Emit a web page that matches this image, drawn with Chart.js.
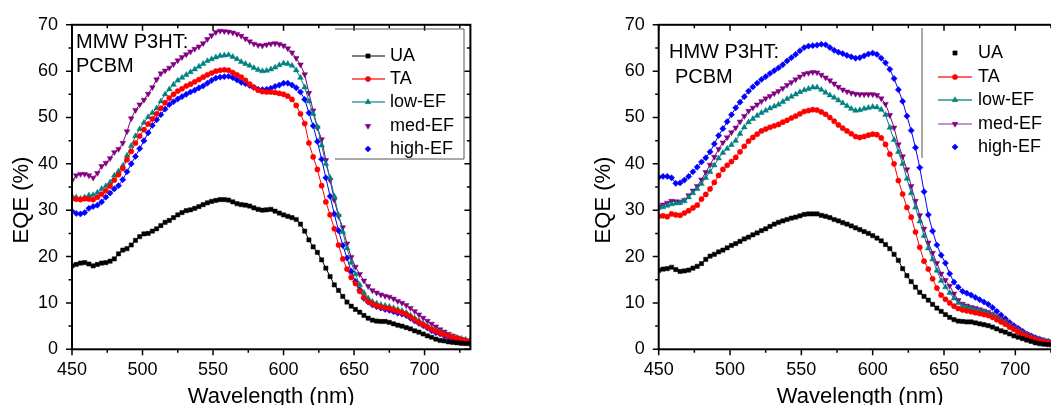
<!DOCTYPE html>
<html lang="en">
<head>
<meta charset="UTF-8">
<title>EQE spectra - MMW / HMW P3HT:PCBM</title>
<script src="https://cdn.jsdelivr.net/npm/chart.js"></script>
<style>
    html, body {
        margin: 0;
        padding: 0;
        background: #fff;
        overflow: hidden;
    }
    body {
        width: 1051px;
        height: 405px;
        position: relative;
    }
    .panel {
        position: absolute;
        top: 0;
        height: 405px;
    }
    #left { left: 0; width: 530px; }
    #right { left: 530px; width: 545px; }
</style>
</head>
<body>
<div class="panel" id="left"><canvas id="mmwChart" width="530" height="405"></canvas></div>
<div class="panel" id="right"><canvas id="hmwChart" width="545" height="405"></canvas></div>

<script>
// wavelength (nm)
const wavelength = [
    450,453,456,459,462,465,468,471,474,477,
    480,483,486,489,492,495,498,501,504,507,
    510,513,516,519,522,525,528,531,534,537,
    540,543,546,549,552,555,558,561,564,567,
    570,573,576,579,582,585,588,591,594,597,
    600,603,606,609,612,615,618,621,624,627,
    630,633,636,639,642,645,648,651,654,657,
    660,663,666,669,672,675,678,681,684,687,
    690,693,696,699,702,705,708,711,714,717,
    720,723,726,729,732
];

// MMW P3HT:PCBM, EQE (%)
const mmwUA = [
    18.0,18.3,18.6,18.7,18.4,18.0,18.3,18.6,18.7,19.0,
    19.5,20.6,21.4,21.7,22.5,23.5,24.3,24.9,25.0,25.5,
    26.0,26.7,27.4,27.8,28.4,29.0,29.5,29.9,30.1,30.4,
    30.8,31.2,31.6,31.9,32.1,32.3,32.3,32.2,31.8,31.4,
    31.2,31.1,30.9,30.5,30.2,30.0,30.1,30.2,29.8,29.4,
    29.0,28.7,28.4,28.0,27.0,25.5,23.6,22.1,20.9,19.3,
    17.5,15.7,13.9,12.7,11.4,10.2,9.3,8.6,8.0,7.3,
    6.7,6.3,6.1,6.0,6.0,5.8,5.5,5.2,5.0,4.7,
    4.4,4.0,3.7,3.3,2.9,2.6,2.2,1.9,1.8,1.6,
    1.5,1.4,1.3,1.25,1.2
];
const mmwTA = [
    32.5,32.4,32.3,32.5,32.4,32.3,32.8,33.5,34.2,35.2,
    36.5,37.7,39.0,40.9,42.7,44.5,46.0,47.4,48.6,49.7,
    50.8,52.0,53.2,54.2,55.0,55.7,56.2,56.8,57.2,57.7,
    58.2,58.7,59.2,59.6,60.0,60.2,60.3,60.2,59.7,59.2,
    58.7,58.0,57.2,56.5,55.9,55.6,55.5,55.5,55.4,55.2,
    55.0,54.6,53.9,52.6,50.8,48.7,44.5,41.5,38.8,35.3,
    31.8,29.0,26.0,22.5,19.5,17.3,15.5,14.2,12.5,11.2,
    10.3,9.8,9.4,9.1,8.9,8.8,8.5,8.2,7.9,7.6,
    7.0,6.4,5.8,5.3,4.8,4.3,3.9,3.5,3.2,2.9,
    2.6,2.4,2.1,1.9,1.7
];
const mmwLow = [
    33.0,32.8,32.5,32.8,33.2,33.3,33.8,34.6,35.2,36.0,
    37.5,38.4,39.6,41.8,43.9,46.0,47.5,48.9,50.1,51.0,
    52.0,53.5,55.0,56.1,57.1,58.0,58.6,59.2,59.8,60.4,
    61.0,61.6,62.2,62.6,63.0,63.3,63.4,63.5,63.1,62.6,
    62.0,61.6,61.2,60.7,60.3,60.0,60.1,60.4,60.8,61.3,
    61.7,61.6,61.2,60.2,58.6,56.5,53.5,50.8,48.0,44.0,
    40.0,37.0,33.0,29.0,25.3,21.8,18.7,16.2,13.9,12.2,
    11.0,10.3,9.9,9.6,9.4,9.2,8.9,8.6,8.3,7.9,
    7.3,6.7,6.2,5.6,5.0,4.5,4.1,3.7,3.4,3.0,
    2.8,2.5,2.3,2.1,1.9
];
const mmwMed = [
    36.4,37.5,37.8,37.8,37.5,37.0,38.0,39.5,40.2,41.2,
    42.5,43.2,44.5,47.0,49.8,51.6,52.8,53.8,55.1,56.5,
    58.2,59.5,60.1,60.7,61.5,62.3,63.0,63.6,64.2,64.8,
    65.3,66.0,66.9,67.7,68.4,68.7,68.6,68.5,68.3,68.0,
    67.6,67.0,66.4,65.9,65.6,65.5,65.7,65.9,66.0,65.8,
    65.5,64.9,64.0,62.8,61.4,59.3,55.3,51.5,47.8,45.3,
    40.8,36.5,32.2,28.7,26.3,22.8,19.9,17.8,16.2,14.8,
    13.6,12.7,12.2,11.8,11.5,11.3,10.9,10.4,10.0,9.5,
    8.9,8.2,7.5,6.8,6.1,5.5,4.9,4.3,3.8,3.3,
    2.9,2.5,2.2,1.9,1.6
];
const mmwHigh = [
    29.8,29.3,29.2,29.5,30.4,30.8,31.1,31.8,32.8,33.7,
    34.6,35.3,36.6,38.3,40.0,41.6,43.3,45.0,46.7,48.3,
    49.5,50.6,51.8,52.8,53.4,54.0,54.5,55.0,55.5,55.9,
    56.4,56.8,57.4,58.0,58.5,58.7,58.8,58.9,58.6,58.1,
    57.6,57.3,56.9,56.5,56.1,56.0,56.1,56.3,56.7,57.0,
    57.4,57.4,57.0,56.4,55.5,53.9,51.0,48.2,44.8,41.0,
    37.0,33.0,29.2,25.6,22.4,19.7,16.8,14.6,12.8,11.0,
    10.2,9.6,9.2,8.9,8.6,8.4,8.1,7.8,7.6,7.3,
    6.7,6.1,5.6,5.1,4.6,4.0,3.6,3.3,2.9,2.6,
    2.3,2.0,1.8,1.7,1.6
];

// HMW P3HT:PCBM, EQE (%)
const hmwUA = [
    17.0,17.3,17.4,17.7,17.2,16.8,16.9,17.1,17.5,17.9,
    18.5,19.4,20.1,20.5,21.0,21.4,21.9,22.4,22.8,23.3,
    23.8,24.2,24.7,25.1,25.6,26.0,26.5,27.0,27.4,27.7,
    28.0,28.3,28.5,28.8,29.1,29.2,29.2,29.2,28.9,28.7,
    28.4,28.0,27.7,27.3,27.0,26.6,26.2,25.8,25.4,25.0,
    24.5,24.0,23.4,22.6,21.7,20.5,19.2,17.4,15.9,14.6,
    13.4,12.3,11.4,10.6,9.7,8.9,8.2,7.5,6.9,6.4,
    6.1,6.0,5.9,5.9,5.7,5.5,5.3,5.1,4.8,4.4,
    4.0,3.7,3.3,2.9,2.6,2.3,2.0,1.7,1.4,1.2,
    1.1,1.0,0.9,0.85,0.8
];
const hmwTA = [
    28.7,28.8,28.6,29.2,29.0,28.9,29.4,29.9,30.5,31.1,
    32.4,33.4,34.6,36.0,37.5,38.8,39.7,40.5,41.4,42.6,
    43.8,44.9,45.7,46.4,47.1,47.5,47.9,48.2,48.5,49.0,
    49.4,49.9,50.3,50.8,51.3,51.5,51.7,51.6,51.2,50.7,
    50.0,49.2,48.4,47.7,47.1,46.5,45.9,45.7,45.9,46.2,
    46.4,46.3,45.6,44.2,42.1,40.0,36.4,33.5,30.6,28.5,
    25.3,22.0,19.0,17.3,15.2,13.2,11.7,10.8,10.0,9.3,
    8.8,8.5,8.3,8.1,7.9,7.7,7.5,7.3,6.9,6.4,
    5.9,5.4,4.8,4.3,3.7,3.2,2.8,2.4,2.1,1.8,
    1.6,1.4,1.3,1.2,1.1
];
const hmwLow = [
    30.5,30.7,31.0,31.3,31.5,31.6,32.0,32.8,33.7,34.6,
    35.7,37.0,38.3,39.7,41.2,42.4,43.3,44.1,45.0,46.5,
    47.9,49.0,49.7,50.4,51.0,51.5,52.0,52.4,52.8,53.4,
    54.0,54.5,55.0,55.5,55.9,56.2,56.5,56.5,56.0,55.4,
    54.8,54.3,53.7,53.1,52.5,51.9,51.5,51.6,51.9,52.1,
    52.3,52.2,51.7,50.6,47.8,45.2,42.6,40.0,36.8,33.7,
    30.6,27.6,24.5,21.8,19.4,17.0,14.8,13.4,12.2,11.0,
    10.0,9.4,9.1,8.8,8.5,8.3,8.1,7.8,7.4,6.9,
    6.3,5.8,5.1,4.5,4.0,3.5,3.0,2.6,2.3,2.0,
    1.8,1.6,1.4,1.3,1.2
];
const hmwMed = [
    30.8,31.2,31.6,32.0,31.9,31.8,32.2,33.2,34.2,35.2,
    36.6,38.2,39.8,41.5,43.2,44.6,45.7,46.8,47.8,49.1,
    50.3,51.4,52.1,52.8,53.5,54.1,54.6,55.2,55.7,56.3,
    57.0,57.6,58.2,58.8,59.4,59.6,59.8,59.7,59.2,58.6,
    58.0,57.3,56.6,56.0,55.6,55.3,55.1,55.0,55.0,55.0,
    55.0,54.8,54.1,52.9,50.5,47.8,44.2,41.6,38.8,35.2,
    32.0,28.9,26.0,23.0,20.8,18.6,16.3,14.9,13.7,12.0,
    10.6,9.8,9.4,9.1,8.9,8.6,8.3,8.0,7.6,7.1,
    6.6,6.1,5.5,4.9,4.4,3.8,3.3,2.9,2.5,2.2,
    1.9,1.7,1.5,1.4,1.3
];
const hmwHigh = [
    37.1,37.3,37.3,37.0,35.8,35.9,36.5,37.3,38.3,39.3,
    40.4,41.3,42.6,44.3,46.1,47.6,49.1,50.6,52.1,53.3,
    54.5,55.7,56.6,57.4,58.2,58.8,59.5,60.1,60.7,61.4,
    62.2,62.9,63.6,64.4,65.1,65.4,65.5,65.6,65.8,65.7,
    65.1,64.5,64.1,63.8,63.4,63.1,62.8,62.9,63.3,63.7,
    63.9,63.6,62.8,61.8,60.4,58.4,56.0,53.5,50.3,47.2,
    43.5,39.2,34.0,29.0,25.5,22.5,20.3,18.6,16.3,14.5,
    13.4,12.5,12.1,11.7,11.2,10.7,10.2,9.7,9.0,8.2,
    7.4,6.6,5.8,5.1,4.5,3.9,3.3,2.9,2.5,2.2,
    1.9,1.7,1.5,1.4,1.3
];

const seriesLabels = ['UA', 'TA', 'low-EF', 'med-EF', 'high-EF'];
const xTicks = [450, 500, 550, 600, 650, 700];
const xMinorTicks = [475, 525, 575, 625, 675, 725];
const yTicks = [0, 10, 20, 30, 40, 50, 60, 70];
const yMinorTicks = [5, 15, 25, 35, 45, 55, 65];

const FONT = '"Liberation Sans", Arial, sans-serif';
const colors = ['#000000', '#ff0000', '#008080', '#800080', '#0000ff'];
const markers = ['rect', 'circle', 'triangle', 'triangle', 'rectRot'];
const markerRot = [0, 0, 0, 180, 0];
const markerSize = [3, 2.6, 3.3, 3.3, 3.1];

function drawMarker(ctx, i, x, y) {
    ctx.fillStyle = colors[i];
    ctx.strokeStyle = colors[i];
    ctx.lineWidth = 0.5;
    if (Chart.helpers && Chart.helpers.drawPoint) {
        Chart.helpers.drawPoint(ctx, {
            pointStyle: markers[i], radius: markerSize[i],
            rotation: markerRot[i], borderWidth: 0.5
        }, x, y);
    } else {
        ctx.fillRect(x - 2, y - 2, 4, 4);
    }
}

// frame, ticks, titles, note and legend
function framePlugin(spec) {
    return {
        id: 'frame',
        afterDraw(chart) {
            const ctx = chart.ctx;
            const a = chart.chartArea;
            const xs = chart.scales.x, ys = chart.scales.y;
            ctx.save();

            ctx.strokeStyle = '#000';
            ctx.lineWidth = 2;
            ctx.strokeRect(a.left, a.top, a.right - a.left, a.bottom - a.top);

            ctx.lineWidth = 1.5;
            ctx.beginPath();
            const xt = (vals, len) => vals.forEach(v => {
                const p = xs.getPixelForValue(v);
                ctx.moveTo(p, a.bottom); ctx.lineTo(p, a.bottom + len);
                ctx.moveTo(p, a.top); ctx.lineTo(p, a.top + len);
            });
            const yt = (vals, len) => vals.forEach(v => {
                const p = ys.getPixelForValue(v);
                ctx.moveTo(a.left, p); ctx.lineTo(a.left - len, p);
                ctx.moveTo(a.right, p); ctx.lineTo(a.right - len, p);
            });
            xt(xTicks, 6); xt(xMinorTicks, 3.5);
            yt(yTicks, 6); yt(yMinorTicks, 3.5);
            ctx.stroke();

            // axis titles
            ctx.fillStyle = '#000';
            ctx.font = '22px ' + FONT;
            ctx.textAlign = 'center';
            ctx.textBaseline = 'alphabetic';
            ctx.fillText('Wavelength (nm)', (a.left + a.right) / 2, 403);
            ctx.save();
            ctx.translate(spec.yTitleX, 200);
            ctx.rotate(-Math.PI / 2);
            ctx.textBaseline = 'middle';
            ctx.fillText('EQE (%)', 0, 0);
            ctx.restore();

            // sample note
            ctx.font = '20px ' + FONT;
            ctx.textAlign = 'left';
            ctx.textBaseline = 'middle';
            spec.note.forEach(n => ctx.fillText(n.text, n.x, n.y));

            // legend
            const lg = spec.legend;
            ctx.strokeStyle = '#555';
            ctx.lineWidth = 1;
            ctx.beginPath();
            lg.border.forEach(s => { ctx.moveTo(s[0], s[1]); ctx.lineTo(s[2], s[3]); });
            ctx.stroke();
            ctx.font = '18px ' + FONT;
            seriesLabels.forEach((label, i) => {
                const y = lg.rows[i];
                if (lg.lines[i]) {
                    ctx.strokeStyle = lg.lines[i];
                    ctx.lineWidth = 1.5;
                    ctx.beginPath();
                    ctx.moveTo(lg.lineFrom, y);
                    ctx.lineTo(lg.lineTo, y);
                    ctx.stroke();
                }
                drawMarker(ctx, i, lg.markerX, y);
                ctx.fillStyle = '#000';
                ctx.fillText(label, lg.textX, y);
            });
            ctx.restore();
        }
    };
}

function buildChart(canvasId, seriesData, spec) {
    const datasets = seriesData.map((vals, i) => ({
        label: seriesLabels[i],
        data: vals.map((v, k) => ({ x: wavelength[k], y: v })),
        borderColor: colors[i],
        backgroundColor: colors[i],
        borderWidth: 1,
        pointStyle: markers[i],
        pointRotation: markerRot[i],
        pointRadius: markerSize[i],
        pointBackgroundColor: colors[i],
        pointBorderColor: colors[i],
        pointBorderWidth: 0.5,
        tension: 0
    }));

    const tickFont = { family: FONT, size: 18 };

    return new Chart(document.getElementById(canvasId), {
        type: 'line',
        data: { datasets: datasets },
        options: {
            responsive: false,
            animation: false,
            layout: { padding: { top: 23.3, right: spec.rightPad, bottom: 0, left: 0 } },
            plugins: { legend: { display: false }, tooltip: { enabled: false } },
            scales: {
                x: {
                    type: 'linear',
                    min: 450,
                    max: 732.5,
                    grid: { display: false, drawTicks: false },
                    border: { display: false },
                    afterBuildTicks: s => { s.ticks = xTicks.map(v => ({ value: v })); },
                    afterFit: s => { s.height = 55.7; },
                    ticks: { font: tickFont, color: '#000', padding: 10, maxRotation: 0 }
                },
                y: {
                    min: 0,
                    max: 70,
                    grid: { display: false, drawTicks: false },
                    border: { display: false },
                    afterBuildTicks: s => { s.ticks = yTicks.map(v => ({ value: v })); },
                    afterFit: s => { s.width = spec.yWidth; },
                    ticks: { font: tickFont, color: '#000', padding: 14 }
                }
            }
        },
        plugins: [framePlugin(spec)]
    });
}

buildChart('mmwChart', [mmwUA, mmwTA, mmwLow, mmwMed, mmwHigh], {
    rightPad: 59.6,
    yWidth: 72,
    yTitleX: 22,
    note: [{ text: 'MMW P3HT:', x: 76, y: 42 }, { text: 'PCBM', x: 76, y: 66 }],
    legend: {
        markerX: 368, lineFrom: 352, lineTo: 385, textX: 390,
        rows: [56, 79, 102, 126, 149],
        lines: ['#555555', '#ff3030', '#40a0a0', null, null],
        border: [[335, 29, 464, 29], [464, 29, 464, 159], [335, 159, 464, 159]]
    }
});

buildChart('hmwChart', [hmwUA, hmwTA, hmwLow, hmwMed, hmwHigh], {
    rightPad: 13.3,
    yWidth: 128.7,
    yTitleX: 74,
    note: [{ text: 'HMW P3HT:', x: 139, y: 52 }, { text: 'PCBM', x: 145, y: 77 }],
    legend: {
        markerX: 425, lineFrom: 408, lineTo: 442, textX: 448,
        rows: [53, 77, 100, 124, 147],
        lines: [null, '#ff3030', '#309090', '#b070c0', null],
        border: [[392, 28, 392, 158]]
    }
});
</script>
</body>
</html>
